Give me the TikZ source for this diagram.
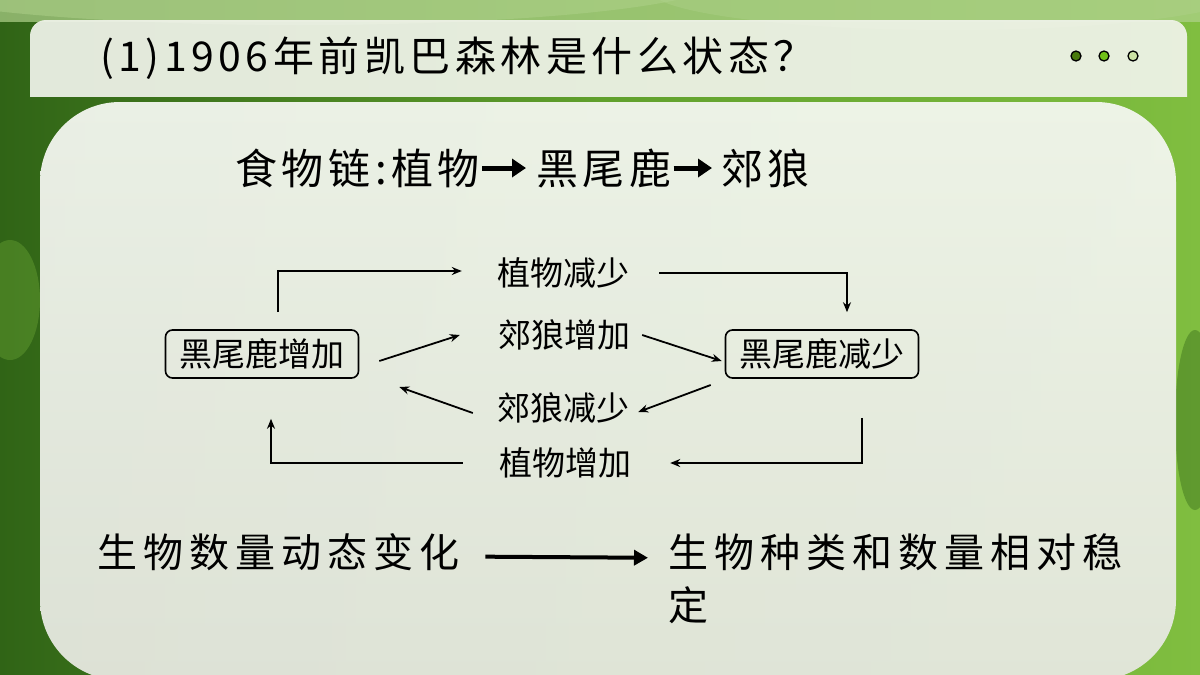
\documentclass[tikz,border=0pt]{standalone}
\usepackage{fontspec}
\setmainfont{Noto Sans CJK SC}
\newfontfamily\cjk{Noto Sans CJK SC}
\newfontfamily\cjkwide[LetterSpace=11]{Noto Sans CJK SC}
\newfontfamily\cjkwider[LetterSpace=15]{Noto Sans CJK SC}
\usetikzlibrary{arrows.meta,positioning}
\definecolor{mossdark}{RGB}{48,100,22}
\definecolor{mossmid}{RGB}{96,160,44}
\definecolor{mosslight}{RGB}{128,190,64}
\definecolor{mosshaze}{RGB}{176,210,140}
\definecolor{paneltop}{RGB}{244,247,240}
\definecolor{panelbot}{RGB}{230,232,224}
\definecolor{bartint}{RGB}{240,243,234}
\definecolor{dotA}{RGB}{72,122,12}
\definecolor{dotB}{RGB}{112,192,24}
\definecolor{dotC}{RGB}{204,226,164}
\tikzset{
  box/.style={draw,rounded corners=7pt,line width=1.6pt,inner xsep=14pt,inner ysep=0pt,
    minimum height=48pt,font=\cjk\fontsize{33}{40}\selectfont},
  lbl/.style={inner sep=3pt,font=\cjk\fontsize{33}{40}\selectfont},
  arr/.style={-{Stealth[length=10pt,width=8pt]},line width=1.8pt},
  fat/.style={-{Triangle[length=14pt,width=18pt]},line width=5pt},
  dot/.style={draw=black,line width=1.3pt},
}
\begin{document}
\begin{tikzpicture}[x=1pt,y=-1pt]
  \useasboundingbox (0,0) rectangle (1200,675);
  \shade[left color=mossdark,right color=mossmid] (0,0) rectangle (600,675);
  \shade[left color=mossmid,right color=mosslight] (600,0) rectangle (1200,675);
  \fill[mosshaze,opacity=.7] (0,0) rectangle (1200,22);
  \fill[mosshaze,opacity=.5] (300,-20) ellipse (420 and 45);
  \fill[mosshaze,opacity=.4] (950,-10) ellipse (300 and 40);
  \fill[mosslight,opacity=.3] (10,300) ellipse (30 and 60);
  \fill[mossdark,opacity=.4] (1195,420) ellipse (20 and 90);
  \begin{scope}
    \clip (0,0) rectangle (1200,96);
    \fill[bartint,opacity=.93,rounded corners=16pt] (30,20) rectangle (1187,150);
  \end{scope}
  \shade[top color=paneltop,bottom color=panelbot,opacity=.95,rounded corners=80pt] (40,102) rectangle (1176,680);
  \node[anchor=west,inner sep=0,font=\cjkwide\fontsize{41}{48}\selectfont] (title) at (100,58) {(1)1906年前凯巴森林是什么状态？};
  \filldraw[dot,fill=dotA] (1076,56) circle (5);
  \filldraw[dot,fill=dotB] (1104,56) circle (5);
  \filldraw[dot,fill=dotC] (1133,56) circle (5);
  \node[anchor=west,inner sep=0,font=\cjkwide\fontsize{42}{48}\selectfont] (fc1) at (235,168) {食物链:植物};
  \node[anchor=west,inner sep=0,font=\cjkwide\fontsize{42}{48}\selectfont] (fc2) at (536,168) {黑尾鹿};
  \node[anchor=west,inner sep=0,font=\cjkwide\fontsize{42}{48}\selectfont] (fc3) at (721,168) {郊狼};
  \draw[fat] ([xshift=2pt]fc1.east) -- ([xshift=-10pt]fc2.west);
  \draw[fat] ([xshift=2pt]fc2.east) -- ([xshift=-9pt]fc3.west);
  \node[box] (inc) at (262,354) {黑尾鹿增加};
  \node[box] (dec) at (822,354) {黑尾鹿减少};
  \node[lbl] (pdec) at (563,273) {植物减少};
  \node[lbl] (winc) at (564,335) {郊狼增加};
  \node[lbl] (wdec) at (563,408) {郊狼减少};
  \node[lbl] (pinc) at (565,463) {植物增加};
  \draw[arr] ([xshift=16pt,yshift=17pt]inc.north) |- ([xshift=-32pt,yshift=2pt]pdec.west);
  \draw[arr] ([xshift=27pt]pdec.east) -| ([xshift=25pt,yshift=17pt]dec.north);
  \draw[arr] ([xshift=20pt,yshift=-7pt]inc.east) -- ([xshift=-35pt]winc.west);
  \draw[arr] ([xshift=9pt]winc.east) -- ([xshift=-3pt,yshift=-7pt]dec.west);
  \draw[arr] ([xshift=-14pt,yshift=-31pt]dec.west) -- ([xshift=6pt,yshift=-4pt]wdec.east);
  \draw[arr] ([xshift=-21pt,yshift=-5pt]wdec.west) -- ([xshift=40pt,yshift=-33pt]inc.east);
  \draw[arr] ([xshift=40pt,yshift=-39pt]dec.south) |- ([xshift=36pt]pinc.east);
  \draw[arr] ([xshift=-33pt]pinc.west) -| ([xshift=9pt,yshift=-40pt]inc.south);
  \node[anchor=base west,inner sep=0,font=\cjkwider\fontsize{40}{48}\selectfont] (bl) at (97,567) {生物数量动态变化};
  \node[anchor=base west,inner sep=0,font=\cjkwider\fontsize{40}{48}\selectfont] (br) at (668,567) {生物种类和数量相对稳};
  \node[anchor=base west,inner sep=0,font=\cjkwider\fontsize{40}{48}\selectfont] (br2) at (668,620) {定};
  \draw[fat,-{Triangle[length=14pt,width=15pt]},line width=4pt] ([xshift=26pt,yshift=-5pt]bl.east) -- ([xshift=-20pt,yshift=-6pt]br.west);
\end{tikzpicture}
\end{document}
